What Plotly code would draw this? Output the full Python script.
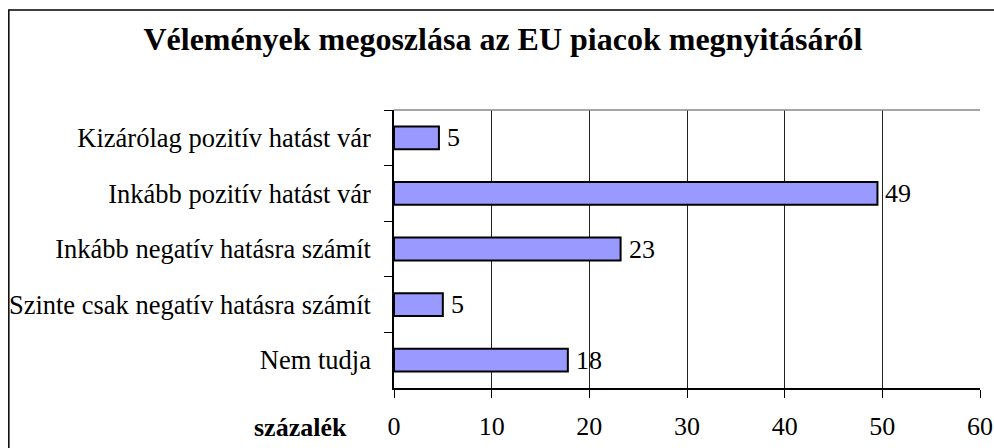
import plotly.graph_objects as go

categories = [
    "Kizárólag pozitív hatást vár",
    "Inkább pozitív hatást vár",
    "Inkább negatív hatásra számít",
    "Szinte csak negatív hatásra számít",
    "Nem tudja",
]
values = [4.6, 49.5, 23.2, 5.0, 17.8]
value_labels = ["5", "49", "23", "5", "18"]
x_ticks = [0, 10, 20, 30, 40, 50, 60]

W, H = 994, 448
L, R, T, B = 393.5, 14, 110, 60
pw = W - L - R
ph = H - T - B

FONT = "Liberation Serif"
FS = 26

fig = go.Figure()
fig.add_trace(go.Bar(
    y=categories,
    x=values,
    orientation="h",
    width=0.41,
    marker=dict(color="#9999FF", line=dict(color="#000000", width=2)),
    cliponaxis=False,
    hoverinfo="x+y",
))

# value labels just right of each bar end
for cat, val, lab in zip(categories, values, value_labels):
    fig.add_annotation(
        x=val, y=cat, xref="x", yref="y",
        text=lab, showarrow=False,
        xanchor="left", yanchor="middle", xshift=6,
        font=dict(family=FONT, size=FS, color="#000000"),
    )

fig.update_layout(
    width=W, height=H,
    margin=dict(l=L, r=R, t=T, b=B, autoexpand=False),
    paper_bgcolor="white",
    plot_bgcolor="white",
    showlegend=False,
    font=dict(family=FONT, size=FS, color="#000000"),
    title=dict(
        text="<b>Vélemények megoszlása az EU piacok megnyitásáról</b>",
        font=dict(family=FONT, size=32, color="#000000"),
        x=0.506, xanchor="center", xref="container",
        y=1 - 39 / H, yanchor="middle", yref="container",
    ),
    xaxis=dict(
        range=[0, 60],
        tickvals=x_ticks,
        ticktext=[str(v) for v in x_ticks],
        showgrid=True, gridcolor="#222222", gridwidth=1,
        zeroline=False,
        showline=True, linecolor="#000000", linewidth=1.5,
        ticks="outside", ticklen=8, tickcolor="#000000", tickwidth=1,
        ticklabelstandoff=6,
        tickfont=dict(family=FONT, size=FS, color="#000000"),
        fixedrange=True,
    ),
    yaxis=dict(
        type="category",
        categoryorder="array",
        categoryarray=categories,
        autorange="reversed",
        showgrid=False,
        showline=True, linecolor="#000000", linewidth=1.5,
        ticks="outside", ticklen=8, tickcolor="#000000", tickwidth=1,
        tickson="boundaries",
        ticklabelstandoff=16,
        tickfont=dict(family=FONT, size=26.5, color="#000000"),
        fixedrange=True,
    ),
)

# x-axis title placed left of tick labels, as in the reference
fig.add_annotation(
    text="<b>százalék</b>",
    xref="paper", yref="paper",
    x=(348 - L) / pw, y=(H - B - 427) / ph,
    xanchor="right", yanchor="middle",
    showarrow=False,
    font=dict(family=FONT, size=FS, color="#000000"),
)

# plot area top border (grey)
fig.add_shape(type="line", xref="paper", yref="paper",
              x0=0, x1=1, y0=1, y1=1,
              line=dict(color="#888888", width=1.5))
# outer chart border (right/bottom run off the image)
fig.add_shape(type="rect", xref="paper", yref="paper",
              x0=(8 - L) / pw, x1=(W + 10 - L) / pw,
              y0=(H - B - (H + 10)) / ph, y1=(H - B - 10) / ph,
              line=dict(color="#000000", width=1.5),
              fillcolor="rgba(0,0,0,0)", layer="below")

fig.write_html(
    "out.html",
    config={"displayModeBar": False},
    post_script="document.body.style.margin='0';document.body.style.overflow='hidden';",
)
